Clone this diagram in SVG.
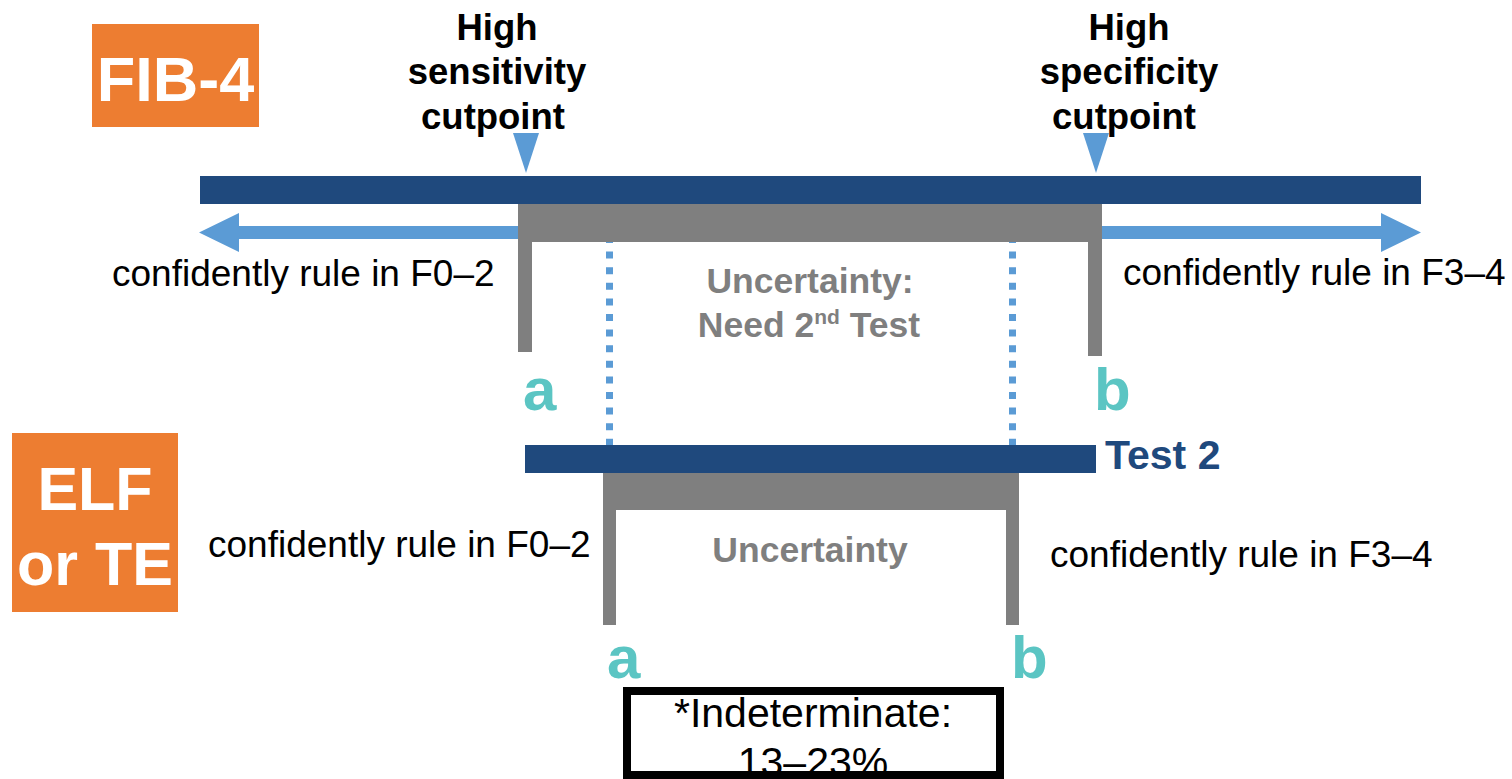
<svg xmlns="http://www.w3.org/2000/svg" width="1512" height="779" viewBox="0 0 1512 779">
  <style>
    .bar { fill: #1F497D; }
    .bracket { fill: #7F7F7F; }
    .tag { fill: #ED7D31; }
    .tagtxt { font-family: "Liberation Sans", Arial, sans-serif; font-weight: bold; fill: #FFFFFF; text-anchor: middle; }
    .head { font-family: "Liberation Sans", Arial, sans-serif; font-weight: bold; font-size: 36.5px; fill: #000000; text-anchor: middle; }
    .rule { font-family: "Liberation Sans", Arial, sans-serif; font-size: 37px; fill: #000000; }
    .unc { font-family: "Liberation Sans", Arial, sans-serif; font-weight: bold; font-size: 35.5px; fill: #7F7F7F; text-anchor: middle; }
    .pt { font-family: "Liberation Sans", Arial, sans-serif; font-weight: bold; font-size: 60px; fill: #5BC5C3; }
    .ind { font-family: "Liberation Sans", Arial, sans-serif; font-size: 41px; fill: #000000; text-anchor: middle; }
    .arrow { fill: #5B9BD5; }
    .dots { stroke: #5B9BD5; stroke-width: 7; stroke-dasharray: 7 8.6; fill: none; }
  </style>

  <!-- Test labels -->
  <g id="fib4-label">
    <rect class="tag" x="92" y="24" width="167" height="103"/>
    <text class="tagtxt" x="175.5" y="101" font-size="63">FIB-4</text>
  </g>
  <g id="elf-te-label">
    <rect class="tag" x="12" y="433" width="166" height="179"/>
    <text class="tagtxt" x="95" y="510" font-size="61">ELF</text>
    <text class="tagtxt" x="95" y="585" font-size="61">or TE</text>
  </g>

  <!-- Cutpoint headings -->
  <g id="sensitivity-cutpoint">
    <text class="head" x="497" y="40">High</text>
    <text class="head" x="497" y="84">sensitivity</text>
    <text class="head" x="493" y="129">cutpoint</text>
  </g>
  <g id="specificity-cutpoint">
    <text class="head" x="1129" y="40">High</text>
    <text class="head" x="1129" y="84">specificity</text>
    <text class="head" x="1124" y="129">cutpoint</text>
  </g>

  <!-- Connectors: markers, arrows and guide lines -->
  <g id="connectors">
    <polygon class="arrow" points="513,133 539,133 526,173"/>
    <polygon class="arrow" points="1083,133 1109,133 1096,173"/>
    <polygon class="arrow" points="518,226 239,226 239,213 199,232.5 239,252 239,239 518,239"/>
    <polygon class="arrow" points="1102,226 1381,226 1381,213 1421,232.5 1381,252 1381,239 1102,239"/>
    <line class="dots" x1="609.5" y1="236" x2="609.5" y2="446"/>
    <line class="dots" x1="1012.5" y1="236" x2="1012.5" y2="446"/>
  </g>

  <!-- FIB-4 scale -->
  <g id="fib4-scale">
    <rect class="bar" x="200" y="176" width="1221" height="28"/>
    <path class="bracket" d="M518,204 H1102 V356 H1088 V242 H532 V352 H518 Z"/>
  </g>
  <g id="fib4-uncertainty">
    <text class="unc" x="810" y="293">Uncertainty:</text>
    <text class="unc" x="809" y="337">Need 2<tspan font-size="21" dy="-13">nd</tspan><tspan dy="13"> Test</tspan></text>
  </g>
  <g id="fib4-rule-out">
    <text class="rule" x="112" y="286">confidently rule in F0–2</text>
  </g>
  <g id="fib4-rule-in">
    <text class="rule" x="1123" y="285">confidently rule in F3–4</text>
  </g>
  <g id="fib4-a"><text class="pt" x="523" y="410">a</text></g>
  <g id="fib4-b"><text class="pt" x="1094" y="410">b</text></g>

  <!-- Second test scale -->
  <g id="test2-scale">
    <rect class="bar" x="525" y="445" width="571" height="28"/>
    <text x="1105" y="469" font-family="'Liberation Sans', Arial, sans-serif" font-weight="bold" font-size="41" fill="#1F497D">Test 2</text>
    <path class="bracket" d="M603,473 H1019 V625 H1006 V510 H616 V625 H603 Z"/>
  </g>
  <g id="test2-uncertainty">
    <text class="unc" x="810" y="562">Uncertainty</text>
  </g>
  <g id="test2-rule-out">
    <text class="rule" x="208" y="557">confidently rule in F0–2</text>
  </g>
  <g id="test2-rule-in">
    <text class="rule" x="1050" y="567">confidently rule in F3–4</text>
  </g>
  <g id="test2-a"><text class="pt" x="607" y="678">a</text></g>
  <g id="test2-b"><text class="pt" x="1011" y="678">b</text></g>

  <!-- Indeterminate share -->
  <g id="indeterminate">
    <rect x="627" y="691" width="373" height="84" fill="#FFFFFF"/>
    <text class="ind" x="813" y="727">*Indeterminate:</text>
    <text class="ind" x="813" y="776">13–23%</text>
    <rect x="627" y="691" width="373" height="84" fill="none" stroke="#000000" stroke-width="8"/>
  </g>
</svg>
